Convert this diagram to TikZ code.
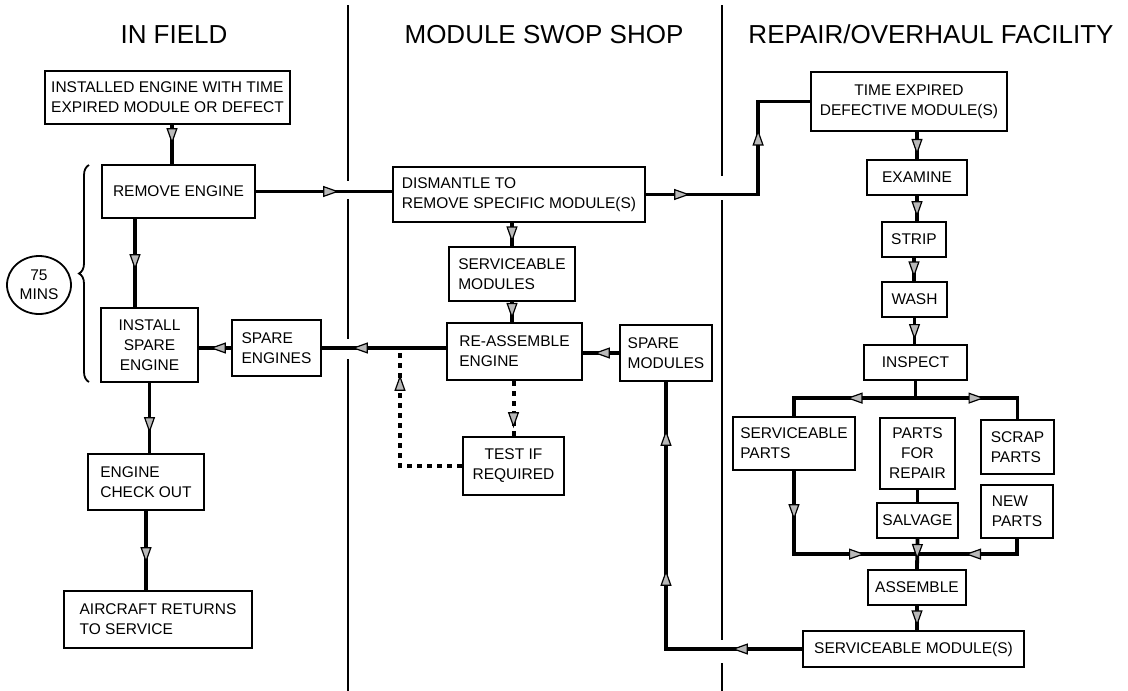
\documentclass[tikz,border=0pt]{standalone}
\usepackage{fontspec}
\setmainfont{Liberation Sans}
\usetikzlibrary{arrows.meta,decorations.markings,decorations.pathreplacing,shapes.geometric,calc}
\begin{document}
\begin{tikzpicture}[x=1pt,y=-1pt,
  box/.style={draw, line width=2.2pt, inner sep=0pt, font=\fontsize{15.5}{20}\selectfont},
  flow/.style={line width=3.8pt},
  arr/.style={postaction={decorate,decoration={markings,mark=at position #1 with {\arrow[line width=1.2pt,black]{Triangle[length=16pt 0 0,width=11pt 0 0,fill=gray!55]}}}}},
  hdr/.style={font=\fontsize{26}{30}\selectfont, anchor=base},
  divider/.style={line width=1.6pt},
  dashflow/.style={line width=4pt, dash pattern=on 5pt off 5pt}]
\useasboundingbox (0,0) rectangle (1128,691);

% headers
\node[hdr] (h1) at (174,43) {IN FIELD};
\node[hdr] (h2) at (544,43) {MODULE SWOP SHOP};
\node[hdr] (h3) at (931,43) {REPAIR/OVERHAUL FACILITY};

% dividers
\draw[divider] (348,5) -- (348,181) (348,199) -- (348,339) (348,359) -- (348,691);
\draw[divider] (722,5) -- (722,176) (722,200) -- (722,640) (722,663) -- (722,691);

% IN FIELD
\node[box, minimum width=245pt, minimum height=53pt, align=left] (inst) at (167.5,97.5) {INSTALLED ENGINE WITH TIME\\EXPIRED MODULE OR DEFECT};
\node[box, minimum width=153pt, minimum height=53pt] (remove) at (178.5,191.5) {REMOVE ENGINE};
\node[box, minimum width=97pt, minimum height=74pt, align=center] (ispare) at (149.5,345) {INSTALL\\SPARE\\ENGINE};
\node[box, minimum width=89pt, minimum height=56pt, align=left] (speng) at (276.5,348) {SPARE\\ENGINES};
\node[box, minimum width=116pt, minimum height=56pt, align=left] (check) at (146,482) {ENGINE\\CHECK OUT};
\node[box, minimum width=188pt, minimum height=57pt, align=left] (air) at (158,619.5) {AIRCRAFT RETURNS\\TO SERVICE};
\node[draw, ellipse, line width=1.8pt, minimum width=64pt, minimum height=58pt, inner sep=0pt, align=center, font=\fontsize{15.5}{19}\selectfont] (mins) at (39,285) {75\\MINS};
\draw[line width=1.8pt, decorate, decoration={brace, amplitude=10pt}] (89,382) -- (89,165);

% MODULE SWOP SHOP
\node[box, minimum width=252pt, minimum height=55pt, align=left] (dis) at (519,194.5) {DISMANTLE TO\\REMOVE SPECIFIC MODULE(S)};
\node[box, minimum width=126pt, minimum height=54pt, align=left] (servmod) at (512,274) {SERVICEABLE\\MODULES};
\node[box, minimum width=135pt, minimum height=57pt, align=left] (reasm) at (514.5,351.5) {RE-ASSEMBLE\\ENGINE};
\node[box, minimum width=92pt, minimum height=56pt, align=left] (spmod) at (666,353) {SPARE\\MODULES};
\node[box, minimum width=101pt, minimum height=58pt, align=center] (test) at (513.5,466) {TEST IF\\REQUIRED};

% REPAIR/OVERHAUL FACILITY
\node[box, minimum width=196pt, minimum height=59pt, align=center] (te) at (909,101.5) {TIME EXPIRED\\DEFECTIVE MODULE(S)};
\node[box, minimum width=100pt, minimum height=35pt] (exam) at (917,177.5) {EXAMINE};
\node[box, minimum width=64pt, minimum height=35pt] (strip) at (914,239.5) {STRIP};
\node[box, minimum width=65pt, minimum height=35pt] (wash) at (914.5,299.5) {WASH};
\node[box, minimum width=103pt, minimum height=35pt] (insp) at (915.5,362.5) {INSPECT};
\node[box, minimum width=122pt, minimum height=53pt, align=left] (sp) at (794,443.5) {SERVICEABLE\\PARTS};
\node[box, minimum width=75pt, minimum height=71pt, align=center] (pfr) at (917.5,453.5) {PARTS\\FOR\\REPAIR};
\node[box, minimum width=73pt, minimum height=54pt, align=left] (scrap) at (1017.5,447) {SCRAP\\PARTS};
\node[box, minimum width=72pt, minimum height=53pt, align=left] (new) at (1017,511.5) {NEW\\PARTS};
\node[box, minimum width=81pt, minimum height=35pt] (salv) at (917.5,520.5) {SALVAGE};
\node[box, minimum width=98pt, minimum height=35pt] (asm) at (917,587.5) {ASSEMBLE};
\node[box, minimum width=221pt, minimum height=36pt] (smod) at (913.5,649) {SERVICEABLE MODULE(S)};

\coordinate (tj) at (400,348);
\coordinate (br) at ([yshift=-17pt]insp.south);
\coordinate (mg) at ([yshift=-15pt]salv.south);

% connectors IN FIELD
\draw[flow, arr=19pt] ([xshift=4.5pt]inst.south) -- ([xshift=4.5pt]inst.south |- remove.north);
\draw[flow, arr=51pt] ([xshift=-43.5pt]remove.south) -- ([xshift=-43.5pt]remove.south |- ispare.north);
\draw[flow, arr=50pt] (ispare.south) -- (ispare.south |- check.north);
\draw[flow, arr=52pt] (check.south) -- (check.south |- air.north);
\draw[flow, arr=21pt] (speng.west) -- (speng.west -| ispare.east);
\draw[flow, arr=83pt] (remove.east) -- (remove.east -| dis.west);

% connectors MODULE SWOP SHOP
\draw[flow, arr=44pt, arr=177pt] (dis.east) -- ++(112,0) |- (te.west);
\draw[flow, arr=0.85] (servmod.north |- dis.south) -- (servmod.north);
\draw[flow, arr=0.85] (servmod.south) -- (servmod.south |- reasm.north);
\draw[flow, arr=25pt] (spmod.west) -- (spmod.west -| reasm.east);
\draw[flow, arr=94pt] (reasm.west |- speng.east) -- (speng.east);
\draw[dashflow, arr=47pt] (test.north |- reasm.south) -- (test.north);
\draw[dashflow, arr=153pt] (test.west) -| (tj);

% connectors REPAIR
\draw[flow, arr=0.85] (te.south -| exam.north) -- (exam.north);
\draw[flow, arr=0.85] (exam.south) -- (exam.south |- strip.north);
\draw[flow, arr=0.85] (strip.south) -- (strip.south |- wash.north);
\draw[flow, arr=0.85] (wash.south) -- (wash.south |- insp.north);
\draw[flow, arr=86pt] (insp.south) -- (br) -| (sp.north);
\draw[flow, arr=69pt] (br) -| (scrap.north);
\draw[flow] (pfr.south) -- (salv.north);
\draw[flow, arr=49pt, arr=154pt] (sp.south) |- (mg);
\draw[flow, arr=67pt] (new.south) |- (mg);
\draw[flow, arr=0.7] (salv.south) -- (asm.north);
\draw[flow, arr=0.85] (asm.south) -- (asm.south |- smod.north);
\draw[flow, arr=70pt, arr=215pt, arr=355pt] (smod.west) -| (spmod.south);
\end{tikzpicture}
\end{document}
